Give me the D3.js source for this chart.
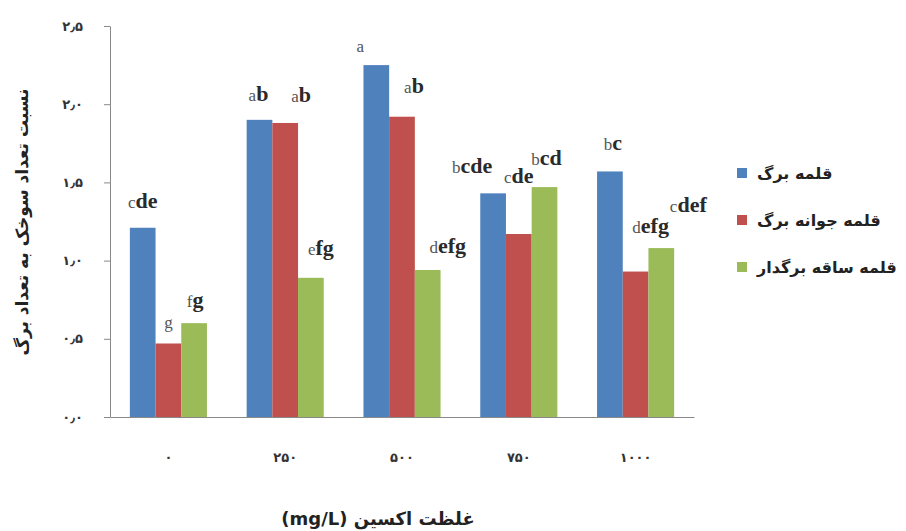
<!DOCTYPE html>
<html>
<head>
<meta charset="utf-8">
<script src="https://cdn.jsdelivr.net/npm/d3@7"></script>
<style>
  html, body { margin: 0; padding: 0; background: #fff; }
  svg { display: block; }
</style>
</head>
<body>
<svg id="chart" width="906" height="531"></svg>
<script>
// ---- data ----
const categories = ["0", "250", "500", "750", "1000"];
const categoryLabels = ["۰", "۲۵۰", "۵۰۰", "۷۵۰", "۱۰۰۰"];
const seriesNames = ["قلمه برگ", "قلمه جوانه برگ", "قلمه ساقه برگدار"];
const leafCutting = [1.21, 1.90, 2.25, 1.43, 1.57];
const budLeafCutting = [0.47, 1.88, 1.92, 1.17, 0.93];
const stemLeafCutting = [0.60, 0.89, 0.94, 1.47, 1.08];
const letters = [
  ["cde", "ab", "a", "bcde", "bc"],
  ["g", "ab", "ab", "cde", "defg"],
  ["fg", "efg", "defg", "bcd", "cdef"]
];
const yTicks = [0, 0.5, 1.0, 1.5, 2.0, 2.5];
const yTickLabels = ["۰٫۰", "۰٫۵", "۱٫۰", "۱٫۵", "۲٫۰", "۲٫۵"];
const yTitle = "نسبت تعداد سوخک به تعداد برگ";
const xTitle = "غلظت اکسین (mg/L)";

// label nudges (pixels) [dx, dy] per series per category
const labelNudge = [
  [[0, -2], [-1, -1], [-16, 5], [-21, -2], [3, -3]],
  [[0, 3], [16, -3], [12, -6], [0, -33], [15, -21]],
  [[1, 2], [10, -5], [20, 1], [2, -4], [27, -18]]
];

const colors = ["#4F81BD", "#C0504D", "#9BBB59"];
const seriesValues = [leafCutting, budLeafCutting, stemLeafCutting];

// ---- layout ----
const svg = d3.select("#chart");
const mLeft = 110, mRight = 694, mTop = 26, mBottom = 417;

const y = d3.scaleLinear().domain([0, 2.5]).range([mBottom, mTop]);
const x0 = d3.scaleBand().domain(categories).range([mLeft, mRight])
  .paddingInner(0.34).paddingOuter(0.17);
const x1 = d3.scaleBand().domain(d3.range(seriesNames.length)).range([0, x0.bandwidth()]);

const axisColor = "#898989";

// y axis
const yAxis = d3.axisLeft(y).tickValues(yTicks)
  .tickFormat((d, i) => yTickLabels[i]).tickSize(6).tickPadding(21).tickSizeOuter(0);
const gy = svg.append("g").attr("transform", `translate(${mLeft},0)`).call(yAxis);
gy.select(".domain").attr("stroke", axisColor);
gy.selectAll(".tick line").attr("stroke", axisColor);
gy.selectAll(".tick text").attr("fill", "#333").attr("font-family", "DejaVu Sans")
  .attr("font-weight", "bold").attr("font-size", 13).attr("letter-spacing", 1);

// bars
seriesValues.forEach((vals, s) => {
  svg.append("g").selectAll("rect").data(vals).join("rect")
    .attr("x", (d, i) => x0(categories[i]) + x1(s))
    .attr("y", d => y(d))
    .attr("width", x1.bandwidth())
    .attr("height", d => y(0) - y(d))
    .attr("fill", colors[s]);
});

// x axis
const xAxis = d3.axisBottom(x0).tickFormat((d, i) => categoryLabels[i])
  .tickSize(0).tickPadding(36).tickSizeOuter(0);
const gx = svg.append("g").attr("transform", `translate(0,${mBottom})`).call(xAxis);
gx.select(".domain").attr("stroke", axisColor);
gx.selectAll(".tick text").attr("fill", "#333").attr("font-family", "DejaVu Sans")
  .attr("font-weight", "bold").attr("font-size", 13).attr("letter-spacing", 3);

// letters
letters.forEach((row, s) => {
  row.forEach((txt, i) => {
    const cx = x0(categories[i]) + x1(s) + x1.bandwidth() / 2 + labelNudge[s][i][0];
    const cy = y(seriesValues[s][i]) - 18 + labelNudge[s][i][1];
    const t = svg.append("text").attr("x", cx).attr("y", cy)
      .attr("text-anchor", "middle").attr("font-family", "Liberation Serif")
      .attr("fill", "#2a2a2a");
    t.append("tspan").attr("font-size", 17).attr("fill", "#555").text(txt[0]);
    if (txt.length > 1) t.append("tspan").attr("font-size", 22).attr("font-weight", "bold").text(txt.slice(1));
  });
});

// legend
const legend = svg.append("g");
seriesNames.forEach((name, s) => {
  const ly = 173 + s * 47;
  legend.append("rect").attr("x", 737).attr("y", ly - 5).attr("width", 10).attr("height", 10)
    .attr("fill", colors[s]);
  legend.append("text").attr("x", 757).attr("y", ly + 6)
    .attr("font-family", "DejaVu Sans").attr("font-weight", "bold").attr("font-size", 16)
    .attr("fill", "#222").text(name);
});

// axis titles
svg.append("text").attr("transform", "translate(28,222) rotate(-90)")
  .attr("text-anchor", "middle").attr("font-family", "DejaVu Sans").attr("font-weight", "bold")
  .attr("font-size", 17).attr("fill", "#222").text(yTitle);

svg.append("text").attr("x", 378).attr("y", 525).attr("direction", "rtl")
  .attr("text-anchor", "middle").attr("font-family", "DejaVu Sans").attr("font-weight", "bold")
  .attr("font-size", 18).attr("fill", "#222").text(xTitle);
</script>
</body>
</html>
